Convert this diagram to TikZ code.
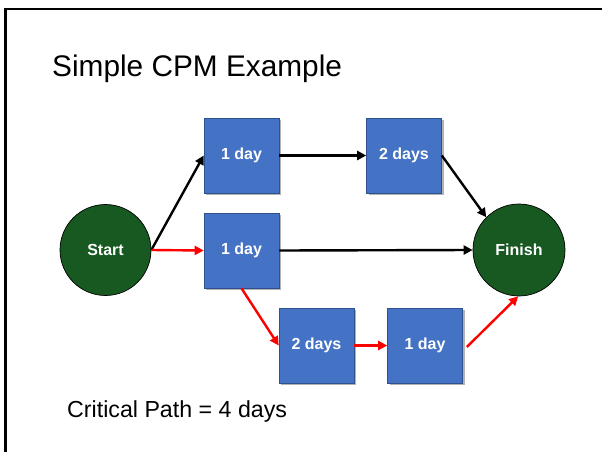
\documentclass[tikz,border=0pt]{standalone}
\usepackage{fontspec}
\setmainfont{Liberation Sans}
\usetikzlibrary{arrows.meta,shadows}
\definecolor{boxblue}{HTML}{4472C4}
\definecolor{boxedge}{HTML}{2F528F}
\definecolor{nodegreen}{RGB}{23,89,33}
\tikzset{
  task/.style={draw=boxedge, line width=0.6pt, fill=boxblue, minimum width=75pt, minimum height=75pt, inner sep=0pt,
    text=white, font=\fontsize{16}{18}\selectfont\bfseries,
    drop shadow={shadow xshift=2pt, shadow yshift=-2pt, fill=black, opacity=0.3}},
  event/.style={circle, draw=black, line width=0.7pt, fill=nodegreen, inner sep=0pt,
    text=white, font=\fontsize{16}{18}\selectfont\bfseries},
  link/.style={line width=2.4pt, -{Triangle[length=9pt,width=9pt]}, draw=black},
  crit/.style={link, draw=red},
  frameline/.style={line width=2.4pt, draw=black}
}
\begin{document}
\begin{tikzpicture}[x=1pt,y=-1pt]
\useasboundingbox (0,0) rectangle (602,452);
\fill[white] (0,0) rectangle (602,452);
\coordinate (fr1) at (602,9);
\coordinate (fr2) at (5.3,9);
\coordinate (fr3) at (5.3,452);
\draw[frameline] (fr1) -- (fr2) -- (fr3);

\node[anchor=base west, inner sep=0pt, font=\fontsize{29.8}{34}\selectfont] (title) at (52,77) {Simple CPM Example};
\node[anchor=base west, inner sep=0pt, font=\fontsize{23.2}{27}\selectfont] (note) at (67,417) {Critical Path = 4 days};

\node[event, minimum size=91pt] (start) at (105.5,250) {Start};
\node[event, minimum size=92pt] (finish) at (519,250) {Finish};
\node[task] (a) at (241.5,155.5) {1 day};
\node[task] (b) at (404,155.5) {2 days};
\node[task] (c) at (241.5,250.5) {1 day};
\node[task] (d) at (316.5,345.5) {2 days};
\node[task] (e) at (425,345.5) {1 day};

\draw[link] (start.east) -- (a.west);
\draw[crit] (start.east) -- (c.west);
\draw[link] (a.east) -- (b.west);
\draw[link] (b.east) -- (finish.north west);
\draw[link] (c.east) -- (finish.west);
\draw[crit] (c.south) -- (d.west);
\draw[crit] (d.east) -- (e.west);
\draw[crit] ([xshift=4pt,yshift=-1.5pt]e.east) -- (finish.-91);
\end{tikzpicture}
\end{document}
